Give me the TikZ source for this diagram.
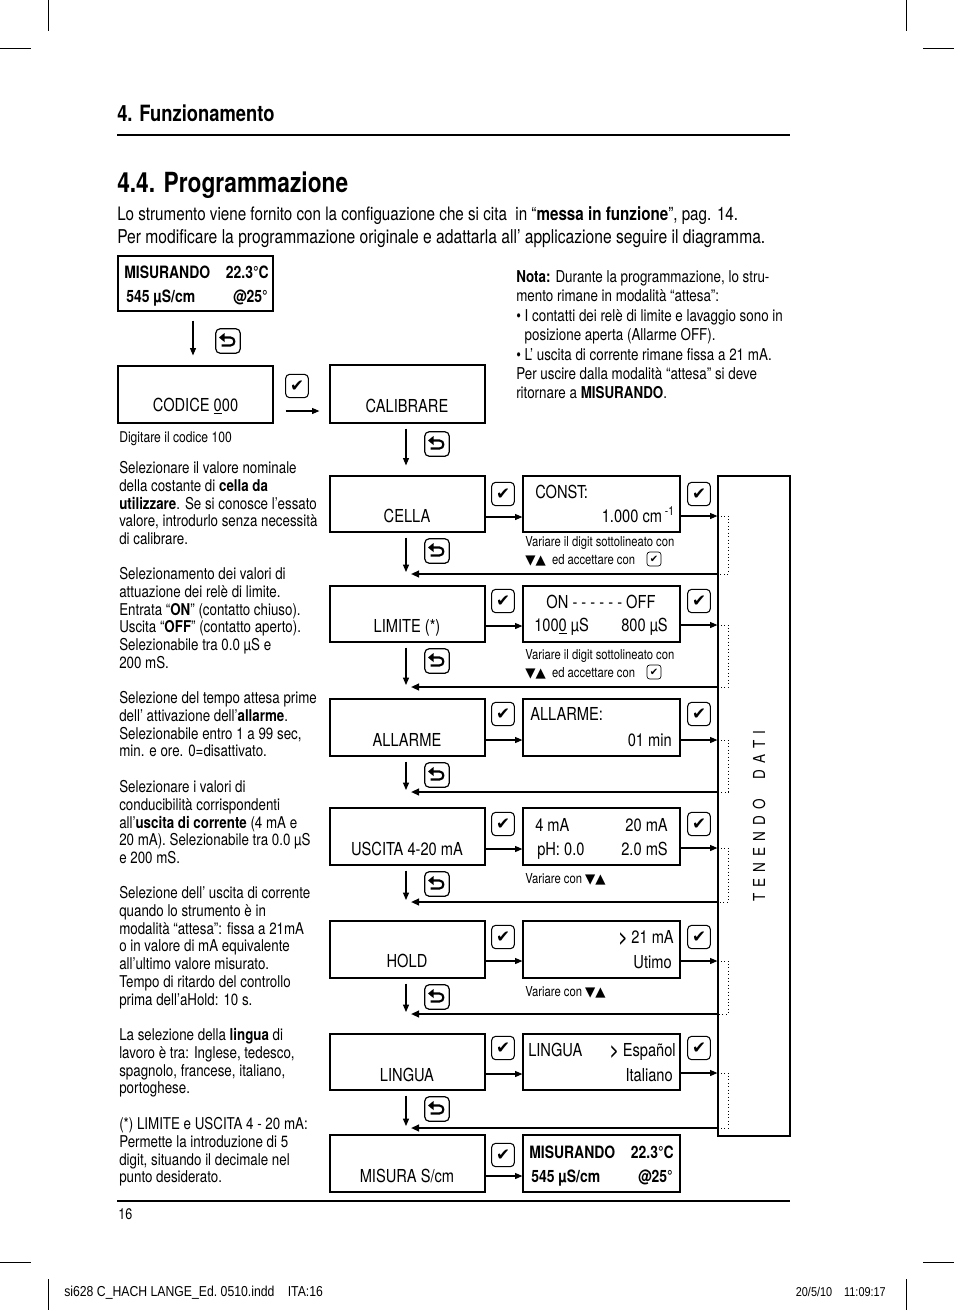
\documentclass[tikz,border=0pt]{standalone}
\usepackage{fontspec}
\setmainfont{TeX Gyre Heros}[FakeStretch=0.82]
\newfontfamily\sym{DejaVu Sans}
\newfontfamily\footf{Liberation Sans}[FakeStretch=0.85]
\usetikzlibrary{arrows.meta,calc}
\newcommand\fs[2]{\fontsize{#1}{#2}\selectfont}
\newcommand\trif{\sym\fs{10}{12}}
\newcommand\tlines[6]{\foreach \myl [count=\myi from 0] in {#6}{\node[#1] (#2\myi) at (#3,{#4+#5*\myi}) {\myl};}}
\tikzset{
  x=0.75pt,y=-0.75pt,
  mbox/.style={draw,line width=0.9pt,inner sep=0,minimum width=116.25pt},
  rbox/.style={draw,line width=0.9pt,inner sep=0,minimum width=117.75pt},
  arr/.style={line width=0.8pt,-{Triangle[length=5.5pt,width=4.5pt]}},
  retline/.style={line width=1.4pt,-{Triangle[length=6pt,width=5pt]}},
  dots/.style={dotted,line width=0.6pt},
  chk/.style={draw,rounded corners=3pt,line width=0.8pt,minimum width=17pt,minimum height=17.5pt,inner sep=0,font=\sym\fs{12.5}{12.5}},
  schk/.style={draw,rounded corners=2pt,line width=0.5pt,minimum size=10.5pt,inner sep=0,font=\sym\fs{7.5}{7.5}},
  ret/.style={draw,rounded corners=3.5pt,line width=0.9pt,minimum size=18.5pt,inner sep=0,
    path picture={
      \begin{scope}[shift={(path picture bounding box.center)},sharp corners]
      \draw[line width=1.6pt] (-4,-3.5) -- (2.5,-3.5) .. controls (7.6,-3.5) and (7.6,4.5) .. (2.5,4.5) -- (-6.5,4.5);
      \fill (-9,-3.5) -- (-3.5,-8) -- (-3.5,1) -- cycle;
      \end{scope}}},
  tx/.style={anchor=base west,inner sep=0},
  txr/.style={anchor=base east,inner sep=0},
  txc/.style={anchor=base,inner sep=0},
  body/.style={tx,font=\fs{12.2}{14}},
  nota/.style={tx,font=\fs{12.25}{14}},
  captx/.style={tx,font=\fs{10.3}{12}},
  bt/.style={font=\fs{13.4}{15}},
  bb/.style={font=\bfseries\fs{12.75}{15}},
}
\begin{document}
\begin{tikzpicture}
\fill[white] (0,0) rectangle (954,1310);
\useasboundingbox (0,0) rectangle (954,1310);
% crop marks
\draw[line width=0.6pt] (48,0) -- (48,31) (0,48) -- (31,48) (906,0) -- (906,31) (923,48) -- (954,48)
  (0,1262) -- (31,1262) (923,1262) -- (954,1262) (48,1279) -- (48,1310) (906,1279) -- (906,1310);
% header
\node[tx,font=\bfseries\fs{16.8}{18}] (h1) at (117,121) {4. Funzionamento};
\draw[line width=0.8pt] (117,135) -- (790,135);
\node[tx,font=\bfseries\fs{20.8}{22}] (h2) at (117,192) {4.4. Programmazione};
\node[tx,font=\fs{13.9}{15}] (i1) at (117,220) {Lo strumento viene fornito con la configuazione che si cita\ \ in “\textbf{messa in funzione}”, pag. 14.};
\node[tx,font=\fs{14.3}{15}] (i2) at (117,243) {Per modificare la programmazione originale e adattarla all’ applicazione seguire il diagramma.};
% nota
\tlines{nota}{nt}{516}{282.5}{19.4}{{\textbf{Nota:} Durante la programmazione, lo stru-},{mento rimane in modalità “attesa”:},{• I contatti dei relè di limite e lavaggio sono in},{\phantom{• }posizione aperta (Allarme OFF).},{• L’ uscita di corrente rimane fissa a 21 mA.},{Per uscire dalla modalità “attesa” si deve},{ritornare a \textbf{MISURANDO}.}}
% left texts
\node[tx,font=\fs{11.1}{12}] (dg) at (119,442) {Digitare il codice 100};
\tlines{body}{ba}{119}{473.5}{17.8}{{Selezionare il valore nominale},{della costante di \textbf{cella da}},{\textbf{utilizzare}. Se si conosce l’essato},{valore, introdurlo senza necessità},{di calibrare.}}
\tlines{body}{bb}{119}{579.5}{17.8}{{Selezionamento dei valori di},{attuazione dei relè di limite.},{Entrata “\textbf{ON}” (contatto chiuso).},{Uscita “\textbf{OFF}” (contatto aperto).},{Selezionabile tra 0.0 µS e},{200 mS.}}
\tlines{body}{bc}{119}{703.5}{17.8}{{Selezione del tempo attesa prime},{dell’ attivazione dell’\textbf{allarme}.},{Selezionabile entro 1 a 99 sec,},{min. e ore. 0=disattivato.}}
\tlines{body}{bd}{119}{792.5}{17.8}{{Selezionare i valori di},{conducibilità corrispondenti},{all’\textbf{uscita di corrente} (4 mA e},{20 mA). Selezionabile tra 0.0 µS},{e 200 mS.}}
\tlines{body}{be}{119}{898.5}{17.8}{{Selezione dell’ uscita di corrente},{quando lo strumento è in},{modalità “attesa”: fissa a 21mA},{o in valore di mA equivalente},{all’ultimo valore misurato.},{Tempo di ritardo del controllo},{prima dell’aHold: 10 s.}}
\tlines{body}{bf}{119}{1040.5}{17.8}{{La selezione della \textbf{lingua} di},{lavoro è tra: Inglese, tedesco,},{spagnolo, francese, italiano,},{portoghese.}}
\tlines{body}{bg}{119}{1129.5}{17.8}{{(*) LIMITE e USCITA 4 - 20 mA:},{Permette la introduzione di 5},{digit, situando il decimale nel},{punto desiderato.}}
% top boxes
\node[mbox,minimum height=41.25pt] (mis1) at (195.5,283.5) {};
\node[tx,bb] (m1a) at (124,278) {MISURANDO};
\node[txr,bb] (m1b) at (269,278) {22.3°C};
\node[tx,bb] (m1c) at (126,302) {545 µS/cm};
\node[txr,bb] (m1d) at (268,302) {@25°};
\node[mbox,minimum height=42.75pt] (cod) at (195.5,394.5) {};
\node[txc,bt] (codt) at (195.5,411) {CODICE \underline{0}00};
\node[mbox,minimum height=43.5pt] (cal) at (407.5,394) {};
\node[txc,bt] (calt) at (407,412) {CALIBRARE};
% tenendo dati
\node[draw,line width=0.9pt,minimum width=54pt,minimum height=495pt,inner sep=0] (ten) at (754,806) {};
\node[rotate=90,inner sep=0,font=\fs{12.4}{14}] (tent) at (759,816) {T\hspace{4.5pt}E\hspace{4.5pt}N\hspace{4.5pt}E\hspace{4.5pt}N\hspace{4.5pt}D\hspace{4.5pt}O\hspace{15pt}D\hspace{4.5pt}A\hspace{4.5pt}T\hspace{4.5pt}I};
% middle column boxes
\node[mbox,minimum height=42pt] (cel) at (407.5,504) {};
\node[txc,bt] (celt) at (407,522) {CELLA};
\node[mbox,minimum height=42pt] (lim) at (407.5,614) {};
\node[txc,bt] (limt) at (407,632) {LIMITE (*)};
\node[mbox,minimum height=42.75pt] (all) at (407.5,727.5) {};
\node[txc,bt] (allt) at (407,746) {ALLARME};
\node[mbox,minimum height=42.75pt] (usc) at (407.5,836.5) {};
\node[txc,bt] (usct) at (407,855) {USCITA 4-20 mA};
\node[mbox,minimum height=42.75pt] (hol) at (407.5,949.5) {};
\node[txc,bt] (holt) at (407,967) {HOLD};
\node[mbox,minimum height=42pt] (lin) at (407.5,1062) {};
\node[txc,bt] (lint) at (407,1081) {LINGUA};
\node[mbox,minimum height=42.75pt] (msr) at (407.5,1163.5) {};
\node[txc,bt] (msrt) at (407,1182) {MISURA S/cm};
\draw[arr] ($(mis1.south)+(-2.5,9)$) -- ($(cod.north)+(-2.5,-10)$);
\node[ret] (rt0) at (228,341) {};
\draw[arr] ($(cod.east)+(12,16.5)$) -- ($(cal.west)+(-10,17)$);
\node[chk] (k0) at (297,386) {✔};
\draw[arr] ($(cal.south)+(-1.5,5)$) -- ($(cel.north)+(-1.5,-10)$);
\node[ret] (rt1) at (437,444) {};
% right column boxes
\node[rbox,minimum height=42pt] (cst) at (601.5,504) {};
\node[tx,bt] (cst1) at (535,498) {CONST:};
\node[txr,bt] (cst2) at (675,522) {1.000 cm\textsuperscript{ -1}};
\node[captx] (cp1a) at (525,546) {Variare il digit sottolineato con};
\node[captx] (cp1b) at (525,564) {{\trif ▼▲}\ \ ed accettare con};
\node[schk] (sk1) at (654,559) {✔};
\node[rbox,minimum height=42pt] (rlm) at (601.5,614) {};
\node[txc,bt] (rlm1) at (601,608) {ON - - - - - - OFF};
\node[tx,bt] (rlm2) at (534,631) {100\underline{0} µS};
\node[txr,bt] (rlm3) at (668,631) {800 µS};
\node[captx] (cp2a) at (525,659) {Variare il digit sottolineato con};
\node[captx] (cp2b) at (525,677) {{\trif ▼▲}\ \ ed accettare con};
\node[schk] (sk2) at (654,672) {✔};
\node[rbox,minimum height=42.75pt] (ral) at (601.5,727.5) {};
\node[tx,bt] (ral1) at (530,720) {ALLARME:};
\node[txr,bt] (ral2) at (672,746) {01 min};
\node[rbox,minimum height=42.75pt] (rus) at (601.5,836.5) {};
\node[tx,bt] (rus1) at (535,831) {4 mA};
\node[txr,bt] (rus2) at (668,831) {20 mA};
\node[tx,bt] (rus3) at (537,855) {pH: 0.0};
\node[txr,bt] (rus4) at (668,855) {2.0 mS};
\node[captx] (cp3) at (525,883) {Variare con {\trif ▼▲}};
\node[rbox,minimum height=42.75pt] (rho) at (601.5,949.5) {};
\node[txr,bt] (rho1) at (674,943) {\textbf{>} 21 mA};
\node[txr,bt] (rho2) at (672,968) {Utimo};
\node[captx] (cp4) at (525,996) {Variare con {\trif ▼▲}};
\node[rbox,minimum height=42pt] (rli) at (601.5,1062) {};
\node[tx,bt] (rli1) at (528,1056) {LINGUA};
\node[txr,bt] (rli2) at (676,1056) {\textbf{>} Español};
\node[txr,bt] (rli3) at (673,1081) {Italiano};
\node[rbox,minimum height=42.75pt] (rms) at (601.5,1163.5) {};
\node[tx,bb] (rms1) at (529,1158) {MISURANDO};
\node[txr,bb] (rms2) at (674,1158) {22.3°C};
\node[tx,bb] (rms3) at (531,1182) {545 µS/cm};
\node[txr,bb] (rms4) at (673,1182) {@25°};
% rows: checks, arrows, returns
\foreach \a/\b/\ay/\by/\cy/\ry/\ly/\n in {cel/cst/517/516/494/551/574/1,lim/rlm/626/625/601/661/687/2,all/ral/740/740/714/775/792/3,usc/rus/849/848/824/884/902/4,hol/rho/961/961/937/997/1014/5,lin/rli/1074/1073/1048/1109/1128/6}{
  \node[chk] (ka\n) at (503,\cy) {✔};
  \node[chk] (kb\n) at (699,\cy) {✔};
  \coordinate (p\n) at (\a.east |- 0,\ay);
  \draw[arr] (p\n) -- (p\n -| \b.west);
  \coordinate (q\n) at (\b.east |- 0,\by);
  \draw[arr] (q\n) -- (q\n -| ten.west);
  \coordinate (t\n) at (411,\ly);
  \coordinate (r\n) at (ten.west |- t\n);
  \draw[dots] (q\n -| ten.west) -- ++(11,0) |- (r\n);
  \draw[retline] (r\n) -- (t\n);
  \coordinate (d\n) at (406,\ly-2);
  \draw[arr] ($(\a.south)+(-1.5,5)$) -- (d\n);
  \node[ret] (rtx\n) at (437,\ry) {};
}
\node[chk] (ka7) at (503,1155) {✔};
\coordinate (p7) at (msr.east |- 0,1176);
\draw[arr] (p7) -- (p7 -| rms.west);
% bottom
\draw[line width=0.8pt] (117,1201) -- (790,1201);
\node[tx,font=\fs{11.5}{13}] (pg) at (118,1219) {16};
\node[tx,font=\footf\fs{10.8}{12}] (ft1) at (64,1296) {si628 C\_HACH LANGE\_Ed.\ 0510.indd\hspace{10pt}ITA:16};
\node[txr,font=\footf\fs{9.6}{11}] (ft2) at (886,1296) {20/5/10\hspace{9pt}11:09:17};
\end{tikzpicture}
\end{document}
